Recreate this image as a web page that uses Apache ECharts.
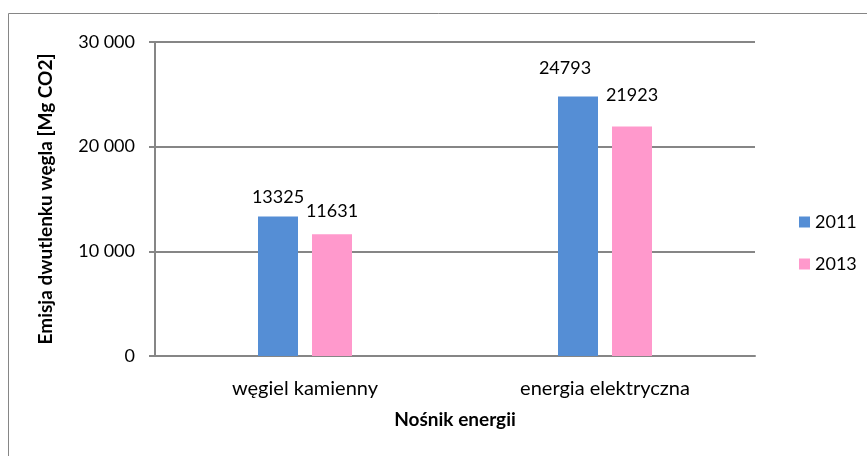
<!DOCTYPE html>
<html>
<head>
<meta charset="utf-8">
<script src="https://cdn.jsdelivr.net/npm/echarts@6/dist/echarts.min.js"></script>
<style>
  html, body { margin: 0; padding: 0; background: #fff; }
  #chart { width: 867px; height: 456px; }
</style>
</head>
<body>
<div id="chart"></div>
<script>
  // values
  const categories = ['węgiel kamienny', 'energia elektryczna'];
  const seriesNames = ['2011', '2013'];
  const values2011 = [13325, 24793];
  const values2013 = [11631, 21923];
  const yTicks = [0, 10000, 20000, 30000];

  const FONT = 'Lato';
  const GRID_COLOR = '#868686';

  // label placement roughly as in the spreadsheet export
  const labelShift = {
    '2011': [{ d: 10, x: 0 }, { d: 19, x: -13 }],
    '2013': [{ d: 14, x: 0 }, { d: 22, x: 0 }]
  };

  function fmt(v) {
    return String(v).replace(/\B(?=(\d{3})+(?!\d))/g, ' ');
  }

  function makeSeries(name, values, color) {
    return {
      name: name,
      type: 'bar',
      barWidth: 40,
      barGap: '35%',
      itemStyle: { color: color },
      data: values.map(function (v, i) {
        const s = labelShift[name][i];
        return {
          value: v,
          label: { distance: s.d, offset: [s.x, 0] }
        };
      }),
      label: {
        show: true,
        position: 'top',
        color: '#000',
        fontFamily: FONT,
        fontSize: 18
      }
    };
  }

  const chart = echarts.init(document.getElementById('chart'));
  chart.setOption({
    animation: false,
    textStyle: { fontFamily: FONT },
    graphic: [{
      type: 'rect',
      shape: { x: 8.5, y: 13.5, width: 900, height: 500 },
      style: { fill: 'none', stroke: GRID_COLOR, lineWidth: 1 },
      silent: true
    }],
    grid: { left: 155, right: 112, top: 42, bottom: 100 },
    legend: {
      orient: 'vertical',
      left: 794,
      top: 208,
      itemWidth: 11,
      itemHeight: 11,
      itemGap: 24,
      icon: 'rect',
      data: seriesNames,
      textStyle: { fontFamily: FONT, fontSize: 18, color: '#000' }
    },
    xAxis: {
      type: 'category',
      data: categories,
      name: 'Nośnik energii',
      nameLocation: 'middle',
      nameGap: 54,
      nameTextStyle: { fontFamily: FONT, fontSize: 19, fontWeight: 'bold', color: '#000' },
      axisLine: { lineStyle: { color: GRID_COLOR, width: 2 } },
      axisTick: { length: 6, lineStyle: { color: GRID_COLOR, width: 2 } },
      axisLabel: { margin: 23, fontFamily: FONT, fontSize: 20, color: '#000' }
    },
    yAxis: {
      type: 'value',
      min: yTicks[0],
      max: yTicks[yTicks.length - 1],
      interval: yTicks[1] - yTicks[0],
      name: 'Emisja dwutlenku węgla [Mg CO2]',
      nameLocation: 'middle',
      nameGap: 100,
      nameTextStyle: { fontFamily: FONT, fontSize: 19, fontWeight: 'bold', color: '#000' },
      axisLine: { show: true, lineStyle: { color: GRID_COLOR, width: 2 } },
      axisTick: { show: true, length: 6, lineStyle: { color: GRID_COLOR, width: 2 } },
      axisLabel: { margin: 20, fontFamily: FONT, fontSize: 18, color: '#000', formatter: fmt },
      splitLine: { lineStyle: { color: GRID_COLOR, width: 2 } }
    },
    series: [
      makeSeries('2011', values2011, '#558ED5'),
      makeSeries('2013', values2013, '#FF99CC')
    ]
  });
</script>
</body>
</html>
